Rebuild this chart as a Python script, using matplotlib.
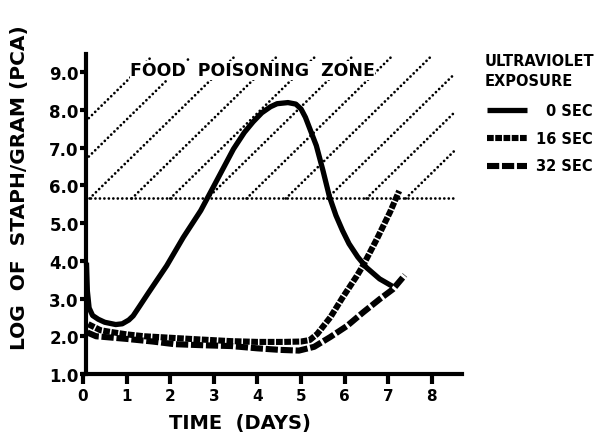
import numpy as np
import matplotlib.pyplot as plt
from matplotlib.lines import Line2D

plt.rcParams['font.family'] = ['DejaVu Sans']
plt.rcParams['font.weight'] = 'bold'

# staph counts (log / gram) after UV exposure
days_0 = [0.08, 0.1, 0.14, 0.22, 0.35, 0.5, 0.75, 0.9, 1.05, 1.15, 1.3, 1.5,
          1.92, 2.3, 2.7, 3.0, 3.45, 3.7, 3.9, 4.1, 4.3, 4.45, 4.7, 4.88, 5.0,
          5.1, 5.2, 5.35, 5.5, 5.65, 5.8, 5.95, 6.1, 6.3, 6.5, 6.8, 7.1]
log_0 = [3.95, 3.2, 2.75, 2.55, 2.45, 2.37, 2.31, 2.33, 2.43, 2.54, 2.8, 3.15,
         3.87, 4.62, 5.33, 5.98, 6.96, 7.4, 7.68, 7.92, 8.08, 8.16, 8.19, 8.15,
         8.02, 7.8, 7.5, 7.05, 6.4, 5.7, 5.2, 4.8, 4.45, 4.1, 3.82, 3.52, 3.32]

days_16 = [0.12, 0.4, 0.6, 1.0, 1.4, 2.0, 2.6, 3.4, 4.0, 4.6, 5.0, 5.2, 5.37,
           5.67, 5.96, 6.28, 6.42, 6.74, 7.04, 7.25]
log_16 = [2.32, 2.16, 2.12, 2.05, 2.0, 1.96, 1.92, 1.87, 1.85, 1.85, 1.86, 1.9,
          2.06, 2.5, 3.04, 3.6, 3.87, 4.58, 5.29, 5.85]

days_32 = [0.1, 0.3, 0.6, 1.0, 1.6, 2.1, 2.8, 3.4, 4.0, 4.5, 4.95, 5.3, 5.67,
           6.05, 6.42, 6.81, 7.11, 7.38]
log_32 = [2.1, 2.0, 1.97, 1.93, 1.86, 1.79, 1.76, 1.74, 1.68, 1.64, 1.62, 1.72,
          1.98, 2.27, 2.63, 2.99, 3.25, 3.62]

series_labels = ["0 SEC", "16 SEC", "32 SEC"]

# food poisoning zone: floor, hatch lines (where each meets the floor)
zone_floor = 5.65
zone_top = 9.4
zone_right = 8.5
hatch_slope = 1.13
hatch_x0 = [-1.75, -0.85, 0.15, 1.12, 2.0, 2.85, 3.75, 4.65, 5.6, 6.5, 7.4]

y_axis_x = 0.06
dots = dict(color='k', lw=2.0, linestyle=(0, (0.01, 1.6)), dash_capstyle='round')

fig = plt.figure(figsize=(5.99, 4.35), dpi=100)
ax = fig.add_axes([83/599, 60/435, 379/599, 320/435])
ax.set_xlim(0, 8.69)
ax.set_ylim(1.0, 9.477)

# hatching
for x0 in hatch_x0:
    xs = max(x0, y_axis_x)
    ys = zone_floor + hatch_slope*(xs - x0)
    xe = x0 + (zone_top - zone_floor)/hatch_slope
    if xe > zone_right:
        xe = zone_right
    ye = zone_floor + hatch_slope*(xe - x0)
    ax.plot([xs, xe], [ys, ye], **dots)
ax.plot([y_axis_x, zone_right], [zone_floor, zone_floor], **dots)

ax.text(1.08, 9.04, "FOOD  POISONING  ZONE", ha='left', va='center',
        fontsize=12.5, zorder=3,
        bbox=dict(fc='white', ec='none', pad=0.3))

# curves
ax.plot(days_0, log_0, color='k', lw=3.8, solid_joinstyle='round',
        solid_capstyle='butt', zorder=4)
ax.plot(days_16, log_16, color='k', lw=4.4, linestyle=(0, (1.1, 0.25)),
        dash_capstyle='butt', zorder=4)
ax.plot(days_32, log_32, color='k', lw=4.4, linestyle=(0, (2.0, 0.45)),
        dash_capstyle='butt', zorder=4)

# axes
for s in ['top', 'right']:
    ax.spines[s].set_visible(False)
ax.spines['left'].set_position(('data', y_axis_x))
ax.spines['left'].set_linewidth(3)
ax.spines['bottom'].set_linewidth(3)

ax.set_xticks(range(0, 9))
ax.set_yticks(np.arange(1, 10))
ax.set_yticklabels([f"{v:.1f}" for v in np.arange(1, 10)])
ax.tick_params(axis='x', length=7, width=3, pad=3, labelsize=11)
ax.tick_params(axis='y', length=4, width=3, pad=1, labelsize=12)

fig.text(240/599, 1 - 424/435, "TIME  (DAYS)", ha='center', va='center',
         fontsize=14)
fig.text(20/599, 1 - 188/435, "LOG  OF  STAPH/GRAM (PCA)", ha='center',
         va='center', rotation=90, fontsize=14.5)

# legend
fig.text(485/599, 1 - 62/435, "ULTRAVIOLET", ha='left', va='center', fontsize=10.5)
fig.text(485/599, 1 - 81/435, "EXPOSURE", ha='left', va='center', fontsize=10.5)
styles = [dict(lw=3.8, linestyle='-', solid_capstyle='butt'),
          dict(lw=4.4, linestyle=(0, (1.1, 0.25)), dash_capstyle='butt'),
          dict(lw=4.4, linestyle=(0, (2.0, 0.45)), dash_capstyle='butt')]
for i, (lab, st) in enumerate(zip(series_labels, styles)):
    yy = 1 - (111 + 28*i)/435
    fig.add_artist(Line2D([487/599, 527/599], [yy, yy], color='k',
                          transform=fig.transFigure, **st))
    fig.text(593/599, yy, lab, ha='right', va='center', fontsize=10.5)

fig.savefig("out.png", dpi=100)
